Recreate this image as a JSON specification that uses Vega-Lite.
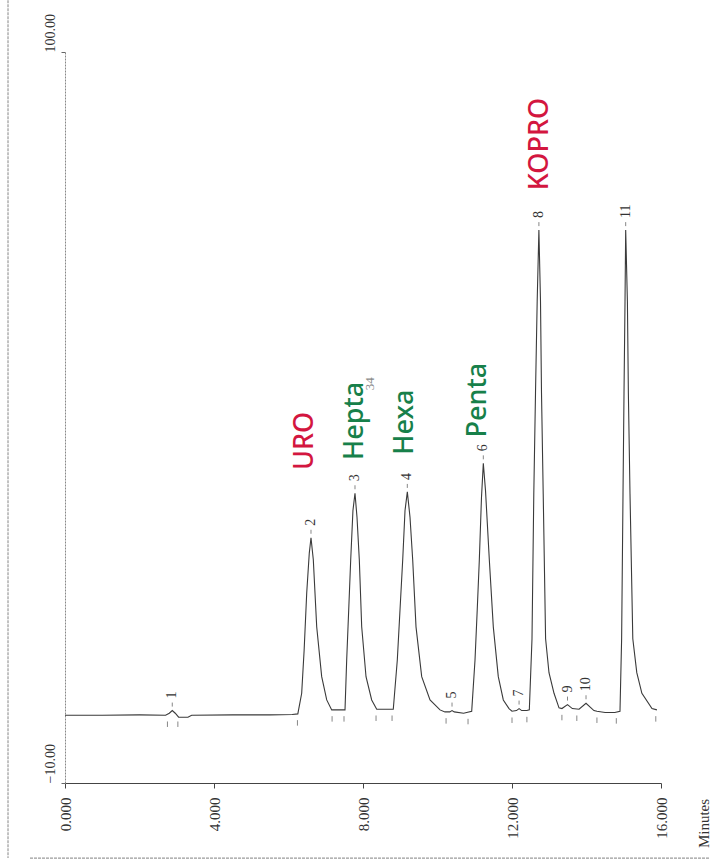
{
  "$schema": "https://vega.github.io/schema/vega-lite/v6.json",
  "width": 596,
  "height": 731,
  "autosize": {"type": "none"},
  "padding": {"left": 65, "top": 52, "right": 49, "bottom": 80},
  "background": "white",
  "config": {"view": {"stroke": null}, "font": "Liberation Serif"},
  "datasets": {
    "trace": [
      {"t":0,"v":0.2},{"t":1,"v":0.2},{"t":2,"v":0.25},{"t":2.7,"v":0.2},{"t":2.8,"v":0.5},{"t":2.88,"v":0.9},{"t":2.96,"v":0.5},{"t":3.05,"v":-0.1},{"t":3.3,"v":-0.1},{"t":3.4,"v":0.2},{"t":4.5,"v":0.25},{"t":5.5,"v":0.25},{"t":6.1,"v":0.3},
      {"t":6.25,"v":0.4},{"t":6.354,"v":3.5},{"t":6.42,"v":10},{"t":6.489,"v":18.6},{"t":6.558,"v":24.6},{"t":6.604,"v":26.9},{"t":6.666,"v":23.6},{"t":6.757,"v":13.5},{"t":6.891,"v":6.0},{"t":7.026,"v":2.5},{"t":7.16,"v":1.0},{"t":7.3,"v":1.0},
      {"t":7.517,"v":1.0},{"t":7.562,"v":8.5},{"t":7.616,"v":16},{"t":7.67,"v":23.6},{"t":7.73,"v":31},{"t":7.785,"v":33.6},{"t":7.839,"v":30},{"t":7.901,"v":23.6},{"t":7.965,"v":13.5},{"t":8.081,"v":6.0},{"t":8.233,"v":2.5},{"t":8.368,"v":1.1},{"t":8.6,"v":1.1},
      {"t":8.813,"v":1.1},{"t":8.921,"v":8.5},{"t":8.993,"v":16},{"t":9.066,"v":23.6},{"t":9.128,"v":31},{"t":9.19,"v":33.8},{"t":9.262,"v":30},{"t":9.334,"v":23.6},{"t":9.423,"v":13.5},{"t":9.576,"v":6.0},{"t":9.799,"v":2.5},{"t":10.067,"v":1.0},
      {"t":10.2,"v":0.7},{"t":10.33,"v":0.7},{"t":10.39,"v":0.9},{"t":10.45,"v":0.7},{"t":10.7,"v":0.5},
      {"t":10.918,"v":0.8},{"t":11.007,"v":8.5},{"t":11.066,"v":16},{"t":11.123,"v":23.6},{"t":11.181,"v":33},{"t":11.23,"v":38.1},{"t":11.289,"v":34},{"t":11.391,"v":23.6},{"t":11.498,"v":13.5},{"t":11.632,"v":6.0},{"t":11.767,"v":2.5},{"t":11.92,"v":1.2},
      {"t":12.0,"v":0.8},{"t":12.12,"v":0.9},{"t":12.19,"v":1.2},{"t":12.26,"v":0.9},{"t":12.4,"v":0.9},
      {"t":12.465,"v":1.0},{"t":12.537,"v":11.7},{"t":12.585,"v":33.5},{"t":12.631,"v":48.7},{"t":12.676,"v":62.5},{"t":12.722,"v":73.2},{"t":12.765,"v":62.5},{"t":12.792,"v":48.7},{"t":12.838,"v":33.5},{"t":12.902,"v":11.7},{"t":12.993,"v":6.6},{"t":13.128,"v":3.5},{"t":13.262,"v":1.3},
      {"t":13.34,"v":1.2},{"t":13.49,"v":1.8},{"t":13.62,"v":1.2},{"t":13.8,"v":1.1},{"t":13.987,"v":2.0},{"t":14.2,"v":0.9},{"t":14.28,"v":0.8},{"t":14.5,"v":0.6},{"t":14.76,"v":0.6},
      {"t":14.899,"v":0.8},{"t":14.943,"v":11.7},{"t":14.98,"v":33.5},{"t":15.007,"v":48.7},{"t":15.034,"v":62.5},{"t":15.052,"v":73.2},{"t":15.098,"v":62.5},{"t":15.124,"v":48.7},{"t":15.168,"v":33.5},{"t":15.243,"v":11.7},{"t":15.35,"v":6.6},{"t":15.487,"v":3.5},{"t":15.758,"v":1.2},{"t":15.89,"v":1.0}
    ],
    "bounds": [
      {"t":2.75,"v":0.2},{"t":3.03,"v":0.2},{"t":6.24,"v":0.4},{"t":7.17,"v":1.0},{"t":7.49,"v":1.0},{"t":8.35,"v":1.1},{"t":8.78,"v":1.1},{"t":10.23,"v":0.7},{"t":10.82,"v":0.6},{"t":12.0,"v":0.8},{"t":12.4,"v":0.9},{"t":13.34,"v":1.2},{"t":13.74,"v":1.1},{"t":14.28,"v":0.8},{"t":14.8,"v":0.7},{"t":15.86,"v":1.0}
    ],
    "peaks": [
      {"peak":"1","t":2.88,"v":0.9},{"peak":"2","t":6.604,"v":26.9},{"peak":"3","t":7.785,"v":33.6},{"peak":"4","t":9.19,"v":33.8},{"peak":"5","t":10.39,"v":0.9},{"peak":"6","t":11.23,"v":38.1},{"peak":"7","t":12.19,"v":1.2},{"peak":"8","t":12.722,"v":73.2},{"peak":"9","t":13.49,"v":1.8},{"peak":"10","t":13.987,"v":2.0},{"peak":"11","t":15.052,"v":73.2}
    ],
    "notes": [
      {"text":"URO","t":6.44,"v":37.1,"ink":"red"},
      {"text":"Hepta","t":7.79,"v":38.6,"ink":"green"},
      {"text":"Hexa","t":9.13,"v":39.4,"ink":"green"},
      {"text":"Penta","t":11.09,"v":42.0,"ink":"green"},
      {"text":"KOPRO","t":12.75,"v":79.2,"ink":"red"}
    ],
    "pencil": [
      {"text":"34","t":8.19,"v":49.1}
    ],
    "frame": [
      {"t":-1.53,"t2":-1.53,"v":107.8,"v2":-21.3},
      {"t":-0.94,"t2":17.3,"v":-21.3,"v2":-21.3}
    ]
  },
  "layer": [
    {
      "data": {"name": "frame"},
      "mark": {"type": "rule", "color": "#9a9a9a", "strokeWidth": 1.2, "strokeDash": [3, 1]},
      "encoding": {
        "x": {"field": "t", "type": "quantitative", "scale": {"domain": [0, 16], "nice": false, "zero": false}},
        "x2": {"field": "t2"},
        "y": {"field": "v", "type": "quantitative", "scale": {"domain": [-10, 100], "nice": false, "zero": false}},
        "y2": {"field": "v2"}
      }
    },
    {
      "data": {"name": "trace"},
      "mark": {"type": "line", "color": "#3a3a3a", "strokeWidth": 1.1},
      "encoding": {
        "x": {
          "field": "t", "type": "quantitative",
          "scale": {"domain": [0, 16], "nice": false, "zero": false},
          "axis": {
            "values": [0, 4, 8, 12, 16], "format": ".3f", "grid": false,
            "labelAngle": 270, "labelAlign": "right", "labelBaseline": "middle",
            "labelPadding": 9, "labelFont": "Liberation Serif", "labelFontSize": 15, "labelColor": "#333",
            "tickSize": 5, "tickColor": "#444", "domainColor": "#444", "domainWidth": 1.2,
            "title": "Minutes", "titleFont": "Liberation Serif", "titleFontSize": 15, "titleFontWeight": "normal", "titleColor": "#333",
            "titleAngle": 270, "titleAlign": "center", "titleBaseline": "middle", "titleX": 638, "titleY": 40
          }
        },
        "y": {
          "field": "v", "type": "quantitative",
          "scale": {"domain": [-10, 100], "nice": false, "zero": false},
          "axis": {
            "values": [-10, 100], "format": ".2f", "grid": false, "title": null,
            "labelAngle": 270,
            "labelAlign": "left",
            "labelBaseline": "bottom",
            "labelPadding": 4, "labelFont": "Liberation Serif", "labelFontSize": 14, "labelColor": "#333",
            "tickSize": 4, "tickColor": "#666", "domainColor": "#888", "domainDash": [2, 1]
          }
        }
      }
    },
    {
      "data": {"name": "bounds"},
      "mark": {"type": "point", "shape": "M0,-1L0,1", "size": 30, "filled": false, "stroke": "#555", "strokeWidth": 1, "yOffset": 9},
      "encoding": {
        "x": {"field": "t", "type": "quantitative"},
        "y": {"field": "v", "type": "quantitative"}
      }
    },
    {
      "data": {"name": "peaks"},
      "mark": {"type": "point", "shape": "M0,-1L0,1", "size": 16, "filled": false, "stroke": "#555", "strokeWidth": 1, "yOffset": -6},
      "encoding": {
        "x": {"field": "t", "type": "quantitative"},
        "y": {"field": "v", "type": "quantitative"}
      }
    },
    {
      "data": {"name": "peaks"},
      "mark": {"type": "text", "angle": 270, "align": "left", "baseline": "middle", "dx": 12, "font": "Liberation Serif", "fontSize": 14, "color": "#333"},
      "encoding": {
        "x": {"field": "t", "type": "quantitative"},
        "y": {"field": "v", "type": "quantitative"},
        "text": {"field": "peak"}
      }
    },
    {
      "data": {"name": "notes"},
      "mark": {"type": "text", "angle": 270, "align": "left", "baseline": "middle", "font": "Noto Sans", "fontSize": 27, "fontWeight": 500},
      "encoding": {
        "x": {"field": "t", "type": "quantitative"},
        "y": {"field": "v", "type": "quantitative"},
        "text": {"field": "text"},
        "color": {"field": "ink", "type": "nominal", "scale": {"domain": ["red", "green"], "range": ["#d3163f", "#17804a"]}, "legend": null}
      }
    },
    {
      "data": {"name": "pencil"},
      "mark": {"type": "text", "angle": 270, "align": "left", "baseline": "middle", "font": "Liberation Serif", "fontSize": 13, "color": "#8a8a8a"},
      "encoding": {
        "x": {"field": "t", "type": "quantitative"},
        "y": {"field": "v", "type": "quantitative"},
        "text": {"field": "text"}
      }
    }
  ]
}
